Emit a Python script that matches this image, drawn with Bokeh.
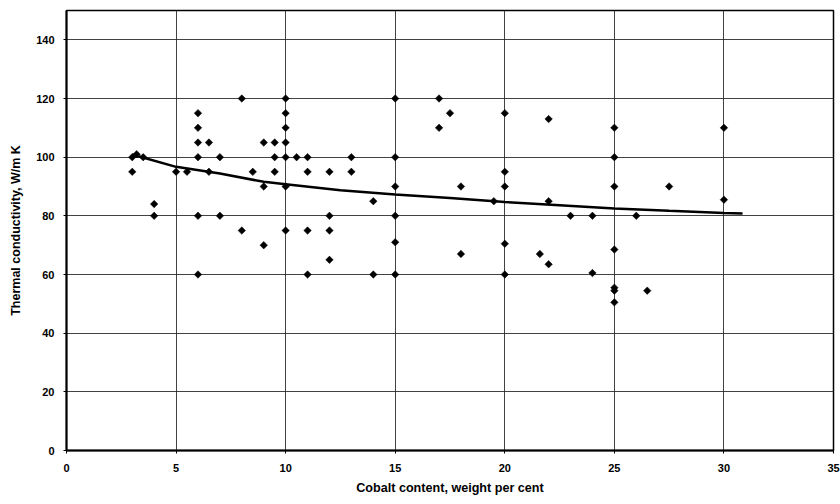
import math
from bokeh.plotting import figure
from bokeh.models import Range1d, FixedTicker
from bokeh.embed import file_html
from bokeh.resources import INLINE

# Measured data: cobalt content (wt %) vs thermal conductivity (W/m K)
cobalt = [3, 3.2, 3, 3.5, 4, 4, 5, 5.5,
          6, 6, 6, 6, 6, 6, 6.5, 6.5, 7, 7,
          8, 8, 8.5, 9, 9, 9, 9.5, 9.5, 9.5,
          10, 10, 10, 10, 10, 10, 10,
          10.5, 11, 11, 11, 11,
          12, 12, 12, 12, 13, 13,
          14, 14, 15, 15, 15, 15, 15, 15,
          17, 17, 17.5, 18, 18,
          19.5, 20, 20, 20, 20, 20,
          21.6, 22, 22, 22, 23, 24, 24,
          25, 25, 25, 25, 25, 25, 25,
          26, 26.5, 27.5, 30, 30]
conductivity = [100, 101, 95, 100, 84, 80, 95, 95,
                115, 110, 105, 100, 80, 60, 105, 95, 100, 80,
                120, 75, 95, 105, 90, 70, 105, 100, 95,
                120, 115, 110, 105, 100, 90, 75,
                100, 100, 95, 75, 60,
                95, 80, 75, 65, 100, 95,
                85, 60, 120, 100, 90, 80, 71, 60,
                120, 110, 115, 90, 67,
                85, 115, 95, 90, 70.5, 60,
                67, 113, 85, 63.5, 80, 80, 60.5,
                110, 100, 90, 68.5, 55.5, 54.5, 50.5,
                80, 54.5, 90, 110, 85.5]

# Trend curve
trend_x = [3, 5, 7, 9, 10, 12.5, 15, 17.5, 20, 22.5, 25, 27.5, 30, 30.85]
trend_y = [100.9, 96.7, 94.4, 91.6, 90.8, 88.7, 87.3, 86.1, 84.7, 83.6, 82.5, 81.7, 81.0, 80.8]

x_ticks = [0, 5, 10, 15, 20, 25, 30, 35]
y_ticks = [0, 20, 40, 60, 80, 100, 120, 140]

FONT = "Liberation Sans"

p = figure(width=840, height=504, output_backend="svg", toolbar_location=None,
           x_range=Range1d(0, 35), y_range=Range1d(0, 150),
           min_border_left=66, min_border_right=7, min_border_top=10,
           min_border_bottom=54)
p.background_fill_color = "white"
p.border_fill_color = "white"
p.outline_line_color = "black"
p.outline_line_width = 1.5

for ax in (p.xaxis[0], p.yaxis[0]):
    ax.axis_line_color = "black"
    ax.axis_line_width = 2
    ax.major_tick_line_color = "black"
    ax.major_tick_out = 3
    ax.major_tick_in = 0
    ax.minor_tick_line_color = None
    ax.major_label_text_font = FONT
    ax.major_label_text_font_style = "bold"
    ax.major_label_text_font_size = "11px"
    ax.major_label_text_color = "black"
    ax.axis_label_text_font = FONT
    ax.axis_label_text_font_style = "bold"
    ax.axis_label_text_color = "black"

p.xaxis.ticker = FixedTicker(ticks=x_ticks)
p.yaxis.ticker = FixedTicker(ticks=y_ticks)
p.xaxis.major_label_standoff = 10
p.yaxis.major_label_standoff = 9

p.yaxis.axis_label = "Thermal conductivity, W/m K"
p.yaxis.axis_label_text_font_size = "12.5px"
p.yaxis.axis_label_standoff = 10

p.xaxis.axis_label = "Cobalt content, weight per cent"
p.xaxis.axis_label_text_font_size = "12.6px"
p.xaxis.axis_label_standoff = 6

p.xgrid.ticker = FixedTicker(ticks=x_ticks)
p.ygrid.ticker = FixedTicker(ticks=y_ticks)
for g in (p.xgrid[0], p.ygrid[0]):
    g.grid_line_color = "#222222"
    g.grid_line_width = 1
    g.grid_line_alpha = 0.85

p.line(trend_x, trend_y, line_color="black", line_width=2.5)
p.scatter(cobalt, conductivity, marker="square", size=5.3, angle=math.pi / 4,
          fill_color="black", line_color="black", line_width=0.5)

open("out.html", "w").write(file_html(p, INLINE))
